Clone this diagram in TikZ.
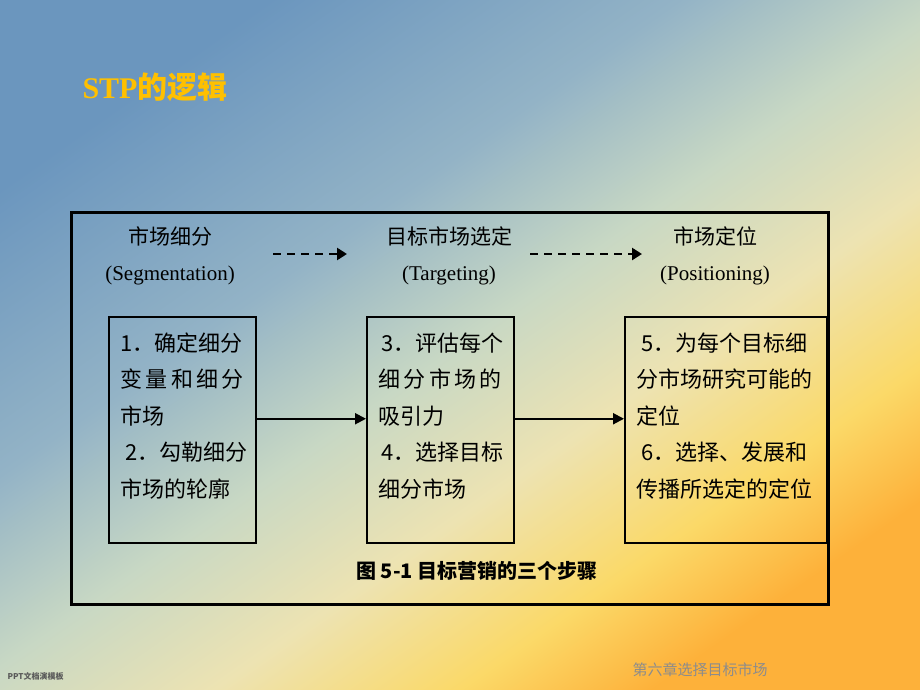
\documentclass[tikz,border=0pt]{standalone}
\usepackage{fontspec}
\setmainfont{Liberation Serif}
\newfontfamily\cjk{Noto Sans CJK SC}
\usetikzlibrary{arrows.meta}

\definecolor{slideA}{HTML}{6B96BE}
\definecolor{slideB}{HTML}{93B3C6}
\definecolor{slideC}{HTML}{C8D8C4}
\definecolor{slideD}{HTML}{EDE3B2}
\definecolor{slideE}{HTML}{FBD968}
\definecolor{slideF}{HTML}{FDB13A}
\definecolor{titlegold}{HTML}{FFC000}
\definecolor{footgray}{HTML}{8C8C8C}

\pgfdeclarehorizontalshading{slidebg}{100bp}{color(0bp)=(slideA); color(25bp)=(slideA);
  color(40bp)=(slideB); color(50bp)=(slideC); color(59bp)=(slideD);
  color(68bp)=(slideE); color(75bp)=(slideF); color(100bp)=(slideF)}

\begin{document}
\begin{tikzpicture}[x=1pt, y=-1pt,
    stepbox/.style={draw=black, line width=1.5pt, inner xsep=12pt, inner ysep=16pt, anchor=north west,
      font=\cjk\fontsize{22}{36.5}\selectfont},
    head/.style={align=center, font=\fontsize{21}{36}\selectfont},
    solidarr/.style={line width=2pt, -{Triangle[length=11pt,width=11pt]}},
    dasharr/.style={line width=2.5pt, dash pattern=on 8pt off 6pt, -{Triangle[length=10pt,width=12pt]}}]
	% slide background
	\shade[shading=slidebg, shading angle=-55] (0,0) rectangle (920,690);
	\useasboundingbox (0,0) rectangle (920,690);

	\node[anchor=west, text=titlegold, font=\bfseries\fontsize{30}{30}\selectfont] (title) at (79,87) {STP{\cjk 的逻辑}};

	% figure frame
	\draw[line width=3pt] (71,212) rectangle (828,604);

	\node[head] (seg) at (170,256) {{\cjk 市场细分}\\(Segmentation)};
	\node[head] (targ) at (449,256) {{\cjk 目标市场选定}\\(Targeting)};
	\node[head] (pos) at (715,256) {{\cjk 市场定位}\\(Positioning)};

	\coordinate (d1a) at (273,254);
	\coordinate (d1b) at (347,254);
	\coordinate (d2a) at (530,254);
	\coordinate (d2b) at (642,254);
	\draw[dasharr] (d1a) -- (d1b);
	\draw[dasharr] (d2a) -- (d2b);

	\node[stepbox] (box1) at (108,316) {\parbox[t][194pt][t]{123pt}{1．确定细分\\
		\makebox[\linewidth][s]{变\hfil 量\hfil 和\hfil 细\hfil 分}\\
		市场\\
		\hspace*{5pt}2．勾勒细分\\
		市场的轮廓}};
	\node[stepbox] (box2) at (366,316) {\parbox[t][194pt][t]{123pt}{\hspace*{3pt}3．评估每个\\
		\makebox[\linewidth][s]{细\hfil 分\hfil 市\hfil 场\hfil 的}\\
		吸引力\\
		\hspace*{3pt}4．选择目标\\
		细分市场}};
	\node[stepbox] (box3) at (624,316) {\parbox[t][194pt][t]{178pt}{\hspace*{5pt}5．为每个目标细\\
		分市场研究可能的\\
		定位\\
		\hspace*{5pt}6．选择、发展和\\
		传播所选定的定位}};

	\draw[solidarr] ([yshift=11pt]box1.east) -- ([yshift=11pt]box2.west);
	\draw[solidarr] ([yshift=11pt]box2.east) -- ([yshift=11pt]box3.west);

	\node[font=\cjk\bfseries\fontsize{20}{20}\selectfont] (cap) at (477,571) {图 5-1 目标营销的三个步骤};

	% footer
	\node[anchor=west, text=black!65, font=\cjk\bfseries\fontsize{8}{8}\selectfont] (tmpl) at (4,676) {PPT文档演模板};
	\node[text=footgray, font=\cjk\fontsize{15}{15}\selectfont] (chap) at (700,670) {第六章选择目标市场};
\end{tikzpicture}
\end{document}
